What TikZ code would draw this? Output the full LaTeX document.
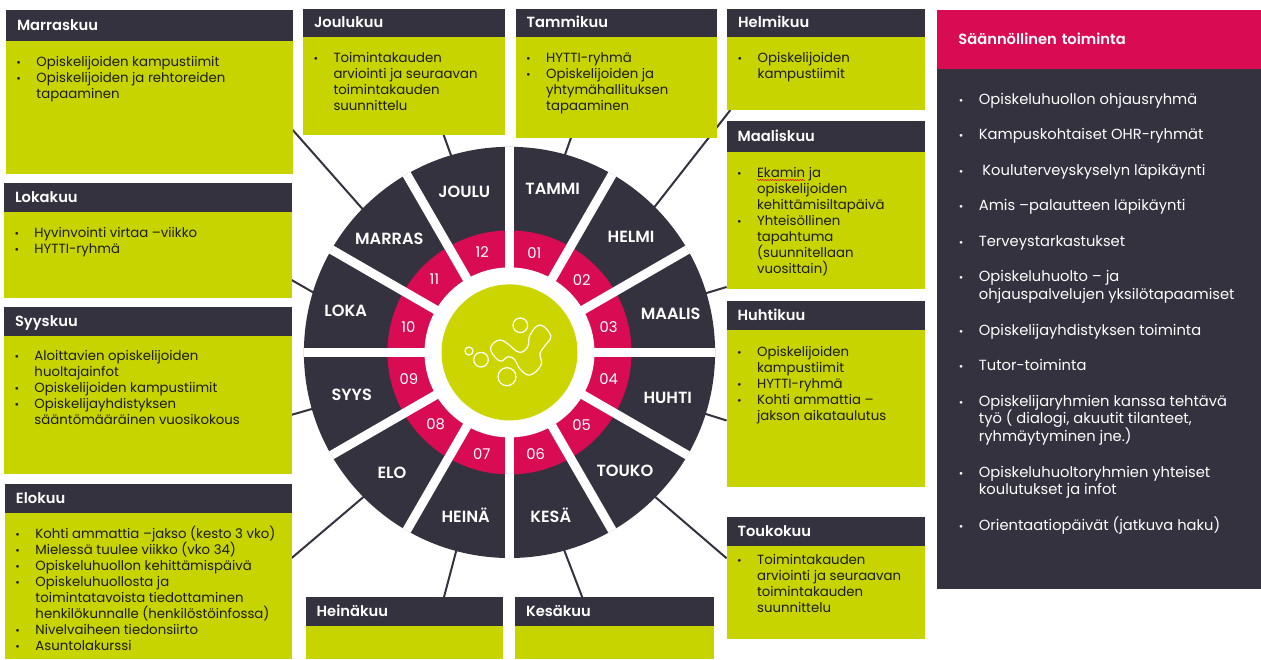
\documentclass[tikz,border=0pt]{standalone}
\usepackage{fontspec}
\setmainfont{Poppins}[BoldFont={Poppins SemiBold}]
\usetikzlibrary{positioning,backgrounds,decorations.pathmorphing}
\definecolor{dk}{HTML}{34323F}
\definecolor{lm}{HTML}{C8D400}
\definecolor{lmc}{HTML}{CDD500}
\definecolor{mg}{HTML}{D90B52}
\definecolor{ink}{HTML}{1C1C08}
\tikzstyle{hd} = [rectangle, fill=dk, text=white, font=\bfseries\fontsize{14.7}{16}\selectfont, anchor=north west, align=left, inner ysep=0pt, inner xsep=11pt, outer sep=0pt, text height=11.5pt, text depth=1.5pt]
\tikzstyle{bd} = [rectangle, fill=lm, text=ink, font=\fontsize{13.3}{16}\selectfont, inner xsep=10pt, inner ysep=0pt, outer sep=0pt]
\tikzstyle{pn} = [rectangle, fill=dk, text=white, font=\fontsize{14.7}{17.75}\selectfont, inner xsep=21pt, inner ysep=0pt, outer sep=0pt]
\tikzstyle{s} = [text=white, font=\bfseries\fontsize{16.2}{16}\selectfont, inner sep=0pt, yshift=-1pt]
\tikzstyle{k} = [text=white, font=\fontsize{14.8}{16}\selectfont, inner sep=0pt]
\tikzstyle{sp} = [white, line width=9pt]
\tikzstyle{c} = [dk, line width=2pt]
\tikzstyle{lg} = [white, line width=1.2pt]
\newcommand{\mitem}[1]{\par\noindent\hangindent=20.5pt\hangafter=1\makebox[20.5pt][l]{\hspace{.5pt}{\fontsize{11}{11}\selectfont•}}\rule{0pt}{10pt}#1}
\newcommand{\mlist}[4]{\parbox[c][#1][t]{#2}{\raggedright\let\\\newline\vspace*{#3}#4}}

\begin{document}
\begin{tikzpicture}[x=1pt,y=-1pt]
	\useasboundingbox (0,0) rectangle (1261,659);

	% wheel
	\node[circle, fill=dk, inner sep=0pt, minimum size=411.2pt] (rim) at (509.5,352.4) {};
	\node[circle, fill=mg, inner sep=0pt, minimum size=244pt] (ring) at (rim) {};
	\draw[sp] (rim.0) -- (rim.180);
	\draw[sp] (rim.30) -- (rim.210);
	\draw[sp] (rim.60) -- (rim.240);
	\draw[sp] (rim.90) -- (rim.270);
	\draw[sp] (rim.120) -- (rim.300);
	\draw[sp] (rim.150) -- (rim.330);
	\node[circle, fill=white, inner sep=0pt, minimum size=170pt] (hole) at (rim) {};
	\node[circle, fill=lmc, inner sep=0pt, minimum size=136pt] (wheel) at (rim) {};

	% logo
	\draw[lg] (469,351) circle (4pt);
	\draw[lg] (481,359.7) circle (7.3pt);
	\draw[lg] (507,376.7) circle (9pt);
	\draw[lg] (520.3,325.3) circle (7.3pt);
	\draw[lg] plot[smooth cycle, tension=.7] coordinates {(491,351) (493.3,343.3) (500.7,340) (508.3,344.3) (519.3,352.3) (527.7,346.7) (530,335) (540,325) (550.7,335.7) (545,345.7) (540,353.3) (541,365) (530,375) (520,369) (515,360) (508.3,356.7) (500,361)};

	% month names
	\node[s] (tammi) at (552.7,188.3) {TAMMI};
	\node[s] (helmi) at (631,236) {HELMI};
	\node[s] (maalis) at (670.7,313) {MAALIS};
	\node[s] (huhti) at (667.7,396.7) {HUHTI};
	\node[s] (touko) at (625,470) {TOUKO};
	\node[s] (kesa) at (550.7,514) {KESÄ};
	\node[s] (heina) at (465.7,514) {HEINÄ};
	\node[s] (elo) at (392,471.7) {ELO};
	\node[s] (syys) at (351.7,394) {SYYS};
	\node[s] (loka) at (345.7,310) {LOKA};
	\node[s] (marras) at (389.3,238.3) {MARRAS};
	\node[s] (joulu) at (464.3,191) {JOULU};

	% month numbers
	\node[k] (k01) at (534.3,253.3) {01};
	\node[k] (k02) at (581.7,280) {02};
	\node[k] (k03) at (608.7,326.7) {03};
	\node[k] (k04) at (608.7,379.3) {04};
	\node[k] (k05) at (581.7,424.7) {05};
	\node[k] (k06) at (535.7,454) {06};
	\node[k] (k07) at (481.7,454) {07};
	\node[k] (k08) at (435.7,424.7) {08};
	\node[k] (k09) at (409,379.3) {09};
	\node[k] (k10) at (408.3,326.7) {10};
	\node[k] (k11) at (434.3,279.3) {11};
	\node[k] (k12) at (482.3,252.3) {12};

	% left column
	\node[hd, text width=264.7pt, minimum height=30.7pt] (marraskuu) at (6,10) {Marraskuu};
	\node[bd, below=0pt of marraskuu] (marraskuubody) {\mlist{133pt}{266.7pt}{16pt}{\mitem{Opiskelijoiden kampustiimit}\mitem{Opiskelijoiden ja rehtoreiden\\tapaaminen}}};
	\node[hd, text width=265.7pt, minimum height=28.7pt] (lokakuu) at (4,183) {Lokakuu};
	\node[bd, below=0pt of lokakuu] (lokakuubody) {\mlist{86pt}{267.7pt}{16pt}{\mitem{Hyvinvointi virtaa –viikko}\mitem{HYTTI-ryhmä}}};
	\node[hd, text width=265.7pt, minimum height=28.4pt] (syyskuu) at (4,307.3) {Syyskuu};
	\node[bd, below=0pt of syyskuu] (syyskuubody) {\mlist{138pt}{267.7pt}{15pt}{\mitem{Aloittavien opiskelijoiden\\huoltajainfot}\mitem{Opiskelijoiden kampustiimit}\mitem{Opiskelijayhdistyksen\\sääntömääräinen vuosikokous}}};
	\node[hd, text width=264.7pt, minimum height=28.4pt] (elokuu) at (5,484.3) {Elokuu};
	\node[bd, below=0pt of elokuu] (elokuubody) {\mlist{146.3pt}{266.7pt}{13pt}{\mitem{Kohti ammattia –jakso (kesto 3 vko)}\mitem{Mielessä tuulee viikko (vko 34)}\mitem{Opiskeluhuollon kehittämispäivä}\mitem{Opiskeluhuollosta ja\\toimintatavoista tiedottaminen\\henkilökunnalle (henkilöstöinfossa)}\mitem{Nivelvaiheen tiedonsiirto}\mitem{Asuntolakurssi}}};

	% top row
	\node[hd, text width=179.7pt, minimum height=27.7pt] (joulukuu) at (303,9) {Joulukuu};
	\node[bd, below=0pt of joulukuu] (joulukuubody) {\mlist{98.3pt}{181.7pt}{16pt}{\mitem{Toimintakauden\\arviointi ja seuraavan\\toimintakauden\\suunnittelu}}};
	\node[hd, text width=179.6pt, minimum height=27.7pt] (tammikuu) at (515.7,9) {Tammikuu};
	\node[bd, below=0pt of tammikuu] (tammikuubody) {\mlist{101pt}{181.6pt}{16pt}{\mitem{HYTTI-ryhmä}\mitem{Opiskelijoiden ja\\yhtymähallituksen\\tapaaminen}}};

	% bottom row
	\node[hd, text width=175.6pt, minimum height=28.7pt] (heinakuu) at (305.7,597.3) {Heinäkuu};
	\node[bd, below=0pt of heinakuu, minimum width=197.6pt, minimum height=33pt] (heinakuubody) {};
	\node[hd, text width=177pt, minimum height=28.7pt] (kesakuu) at (515,597.3) {Kesäkuu};
	\node[bd, below=0pt of kesakuu, minimum width=199pt, minimum height=33pt] (kesakuubody) {};

	% right column
	\node[hd, text width=175.4pt, minimum height=27.7pt] (helmikuu) at (727.2,9) {Helmikuu};
	\node[bd, below=0pt of helmikuu] (helmikuubody) {\mlist{73.3pt}{177.4pt}{16pt}{\mitem{Opiskelijoiden\\kampustiimit}}};
	\node[hd, text width=176pt, minimum height=30.7pt] (maaliskuu) at (726.6,121) {Maaliskuu};
	\node[bd, below=0pt of maaliskuu] (maaliskuubody) {\mlist{137pt}{178pt}{16pt}{\mitem{Ekamin ja\\opiskelijoiden\\kehittämisiltapäivä}\mitem{Yhteisöllinen\\tapahtuma\\(suunnitellaan\\vuosittain)}}};
	\draw[red, line width=.5pt, decorate, decoration={snake, amplitude=.6pt, segment length=2.5pt}] (757,180) -- (805,180);
	\node[hd, text width=176pt, minimum height=29.3pt] (huhtikuu) at (726.6,300.7) {Huhtikuu};
	\node[bd, below=0pt of huhtikuu] (huhtikuubody) {\mlist{156.7pt}{178pt}{16pt}{\mitem{Opiskelijoiden\\kampustiimit}\mitem{HYTTI-ryhmä}\mitem{Kohti ammattia –\\jakson aikataulutus}}};
	\node[hd, text width=176pt, minimum height=28.7pt] (toukokuu) at (726.6,517.3) {Toukokuu};
	\node[bd, below=0pt of toukokuu] (toukokuubody) {\mlist{92.7pt}{178pt}{8.7pt}{\mitem{Toimintakauden\\arviointi ja seuraavan\\toimintakauden\\suunnittelu}}};

	% panel
	\node[hd, fill=mg, text width=281.6pt, minimum height=59pt, inner xsep=21pt] (saann) at (937.4,10) {Säännöllinen toiminta};
	\node[pn, below=0pt of saann] (saannbody) {\mlist{520.3pt}{281.6pt}{6.5pt}{\setlength{\parskip}{17.75pt}\mitem{Opiskeluhuollon ohjausryhmä}\mitem{Kampuskohtaiset OHR-ryhmät}\mitem{\hspace{3.5pt}Kouluterveyskyselyn läpikäynti}\mitem{Amis –palautteen läpikäynti}\mitem{Terveystarkastukset}\mitem{Opiskeluhuolto – ja\\ohjauspalvelujen yksilötapaamiset}\mitem{Opiskelijayhdistyksen toiminta}\mitem{Tutor-toiminta}\mitem{Opiskelijaryhmien kanssa tehtävä\\työ ( dialogi, akuutit tilanteet,\\ryhmäytyminen jne.)}\mitem{Opiskeluhuoltoryhmien yhteiset\\koulutukset ja infot}\mitem{Orientaatiopäivät (jatkuva haku)}}};

	% connectors
	\begin{scope}[on background layer]
		\draw[c] (marras) -- (marraskuubody.-9.8);
		\draw[c] (loka) -- (lokakuubody.-10.2);
		\draw[c] (wheel) -- (syyskuubody.-4.4);
		\draw[c] (elo) -- (elokuubody.11);
		\draw[c] (joulu) -- (joulukuubody.-51.1);
		\draw[c] (tammi) -- (tammikuubody.-132);
		\draw[c] (helmi) -- (helmikuubody.-159.2);
		\draw[c] (wheel) -- (maaliskuubody.-146.4);
		\draw[c] (wheel) -- (huhtikuubody.-173.7);
		\draw[c] (touko) -- (toukokuubody.161.9);
		\draw[c] (heina) -- (heinakuu.20.3);
		\draw[c] (kesa) -- (kesakuu.156.8);
	\end{scope}
\end{tikzpicture}
\end{document}
